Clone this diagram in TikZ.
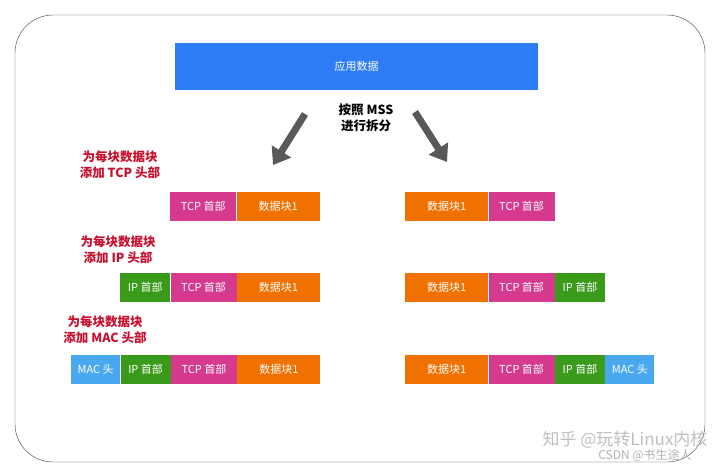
\documentclass[tikz,border=0pt]{standalone}
\usepackage{fontspec}
\setmainfont{Noto Sans CJK SC}
\usetikzlibrary{positioning,arrows.meta}
\definecolor{appblue}{HTML}{2E7CF6}
\definecolor{tcpc}{HTML}{D63A8E}
\definecolor{datac}{HTML}{F07000}
\definecolor{ipc}{HTML}{3A9A1A}
\definecolor{macc}{HTML}{4AA8F0}
\definecolor{labred}{HTML}{C8102E}
\begin{document}
\begin{tikzpicture}[x=1pt,y=-1pt,node distance=0pt,
    seg/.style={minimum height=29pt,inner sep=0pt,text=white,font=\fontsize{11}{13}\selectfont,anchor=west},
    tcp/.style={seg,fill=tcpc,minimum width=66pt},
    dat/.style={seg,fill=datac,minimum width=83pt},
    ip/.style={seg,fill=ipc,minimum width=50pt},
    mac/.style={seg,fill=macc,minimum width=49pt},
    note/.style={text=labred,font=\bfseries\fontsize{12.5}{16}\selectfont,align=center},
    bigarrow/.style={draw=black!65,line width=7pt,-{Triangle[length=16pt,width=22pt]}}]
\useasboundingbox (0,0) rectangle (720,472);
\draw[black!75,rounded corners=38pt] (15,15) rectangle (705,462);
\node[fill=appblue,minimum width=363pt,minimum height=47pt,text=white,font=\fontsize{11}{13}\selectfont] (app) at (356.5,66.5) {应用数据};
\node[font=\bfseries\fontsize{12.5}{16}\selectfont,align=center] (mss) at (366,118) {按照 MSS\\进行拆分};
\coordinate (la) at (305,114);
\coordinate (lb) at (273,165);
\coordinate (ra) at (415,112);
\coordinate (rb) at (447,162);
\draw[bigarrow] (la) -- (lb);
\draw[bigarrow] (ra) -- (rb);
% row 1
\node[note] (n1) at (120,165) {为每块数据块\\添加 TCP 头部};
\node[tcp] (t1) at (170,206.5) {TCP 首部};
\node[dat,right=of t1] (d1) {数据块1};
\node[dat] (d1r) at (405,206.5) {数据块1};
\node[tcp,right=of d1r] (t1r) {TCP 首部};
% row 2
\node[note] (n2) at (118,250) {为每块数据块\\添加 IP 头部};
\node[ip] (i2) at (120,287.5) {IP 首部};
\node[tcp,right=of i2] (t2) {TCP 首部};
\node[dat,right=of t2] (d2) {数据块1};
\node[dat] (d2r) at (405,287.5) {数据块1};
\node[tcp,right=of d2r] (t2r) {TCP 首部};
\node[ip,right=of t2r] (i2r) {IP 首部};
% row 3
\node[note] (n3) at (105,330) {为每块数据块\\添加 MAC 头部};
\node[mac] (m3) at (71,369.5) {MAC 头};
\node[ip,right=of m3] (i3) {IP 首部};
\node[tcp,right=of i3] (t3) {TCP 首部};
\node[dat,right=of t3] (d3) {数据块1};
\node[dat] (d3r) at (405,369.5) {数据块1};
\node[tcp,right=of d3r] (t3r) {TCP 首部};
\node[ip,right=of t3r] (i3r) {IP 首部};
\node[mac,right=of i3r] (m3r) {MAC 头};
% watermark
\node[text=black!25,font=\fontsize{17}{18}\selectfont] (wm1) at (625,440) {知乎 @玩转Linux内核};
\node[text=black!30,font=\fontsize{12}{13}\selectfont] (wm2) at (645,455) {CSDN @书生途人};
\end{tikzpicture}
\end{document}
